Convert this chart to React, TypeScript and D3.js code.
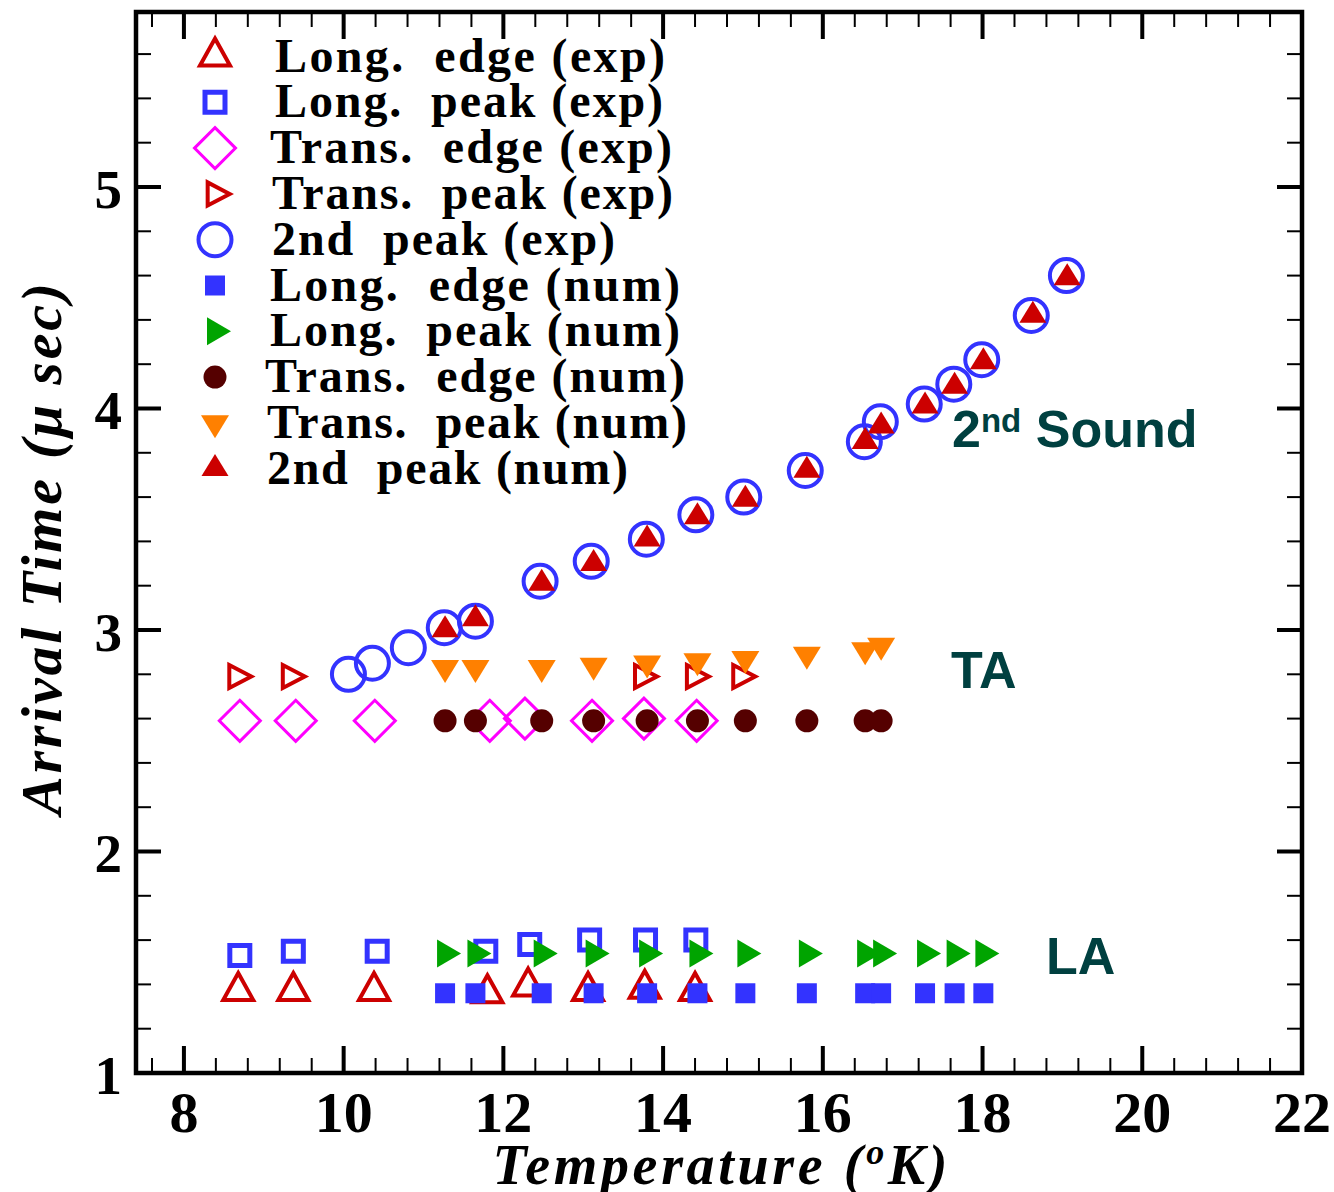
import React from "react";
import * as d3 from "d3";

const WIDTH = 1334;
const HEIGHT = 1192;

// Plot frame (pixels)
const FRAME = { left: 136, right: 1302, top: 12, bottom: 1073 };

// Axis extents and tick values
const xDomain: [number, number] = [7.4, 22];
const yDomain: [number, number] = [1, 5.79];
const xMajorTicks = [8, 10, 12, 14, 16, 18, 20, 22];
const yMajorTicks = [1, 2, 3, 4, 5];

// Longitudinal edge, experiment
const longEdgeExpT = [8.68, 9.37, 10.38, 11.8, 12.31, 13.06, 13.77, 14.4];
const longEdgeExpV = [1.37, 1.37, 1.37, 1.36, 1.39, 1.37, 1.38, 1.37];

// Longitudinal peak, experiment
const longPeakExpT = [8.7, 9.37, 10.42, 11.78, 12.33, 13.08, 13.78, 14.41];
const longPeakExpV = [1.53, 1.55, 1.55, 1.55, 1.58, 1.6, 1.6, 1.6];

// Transverse edge, experiment
const transEdgeExpT = [8.7, 9.4, 10.39, 11.83, 12.27, 13.11, 13.76, 14.42];
const transEdgeExpV = [2.59, 2.59, 2.59, 2.59, 2.6, 2.59, 2.6, 2.59];

// Transverse peak, experiment
const transPeakExpT = [8.66, 9.33, 13.74, 14.39, 14.97];
const transPeakExpV = [2.79, 2.79, 2.79, 2.79, 2.79];

// Second-sound peak, experiment
const secondPeakExpT = [
  10.06, 10.36, 10.81, 11.26, 11.65, 12.46, 13.1, 13.79, 14.41, 15.01, 15.78,
  16.52, 16.72, 17.27, 17.64, 17.99, 18.61, 19.05,
];
const secondPeakExpV = [
  2.8, 2.85, 2.92, 3.01, 3.04, 3.22, 3.31, 3.41, 3.52, 3.6, 3.72, 3.85, 3.94,
  4.02, 4.11, 4.22, 4.42, 4.6,
];

// Longitudinal edge, numerical
const longEdgeNumT = [
  11.27, 11.65, 12.48, 13.13, 13.8, 14.43, 15.03, 15.8, 16.53, 16.73, 17.28,
  17.65, 18.01,
];
const longEdgeNumV = [
  1.36, 1.36, 1.36, 1.36, 1.36, 1.36, 1.36, 1.36, 1.36, 1.36, 1.36, 1.36, 1.36,
];

// Longitudinal peak, numerical
const longPeakNumT = [
  11.27, 11.65, 12.48, 13.13, 13.8, 14.43, 15.03, 15.8, 16.53, 16.73, 17.28,
  17.65, 18.01,
];
const longPeakNumV = [
  1.54, 1.54, 1.54, 1.54, 1.54, 1.54, 1.54, 1.54, 1.54, 1.54, 1.54, 1.54, 1.54,
];

// Transverse edge, numerical
const transEdgeNumT = [
  11.27, 11.65, 12.48, 13.13, 13.8, 14.43, 15.03, 15.8, 16.53, 16.73,
];
const transEdgeNumV = [2.59, 2.59, 2.59, 2.59, 2.59, 2.59, 2.59, 2.59, 2.59, 2.59];

// Transverse peak, numerical
const transPeakNumT = [
  11.27, 11.65, 12.48, 13.13, 13.8, 14.43, 15.03, 15.8, 16.53, 16.73,
];
const transPeakNumV = [2.83, 2.83, 2.83, 2.84, 2.85, 2.86, 2.87, 2.89, 2.91, 2.93];

// Second-sound peak, numerical
const secondPeakNumT = [
  11.27, 11.65, 12.48, 13.13, 13.8, 14.43, 15.03, 15.8, 16.53, 16.73, 17.28,
  17.65, 18.01, 18.63, 19.06,
];
const secondPeakNumV = [
  3.0, 3.05, 3.21, 3.3, 3.41, 3.51, 3.59, 3.72, 3.85, 3.92, 4.01, 4.1, 4.21,
  4.42, 4.59,
];

const legendLabels = [
  "Long.  edge (exp)",
  "Long.  peak (exp)",
  "Trans.  edge (exp)",
  "Trans.  peak (exp)",
  "2nd  peak (exp)",
  "Long.  edge (num)",
  "Long.  peak (num)",
  "Trans.  edge (num)",
  "Trans.  peak (num)",
  "2nd  peak (num)",
];

// Legend label left/right extents
const legendTextStart = [275, 275, 270, 272, 272, 270, 270, 265, 267, 267];
const legendTextEnd = [665, 663, 672, 673, 615, 680, 680, 685, 687, 628];

const RED = "#cc0000";
const BLUE = "#3333ff";
const MAGENTA = "#ff00ff";
const GREEN = "#00a400";
const ORANGE = "#ff8000";
const BROWN = "#550000";
const TEAL = "#004040";

type Shape = "triUp" | "triDown" | "triRight" | "square" | "diamond" | "circle";

interface SymbolStyle {
  shape: Shape;
  a: number; // half-width / half-side / radius
  h?: number; // triangle height
  fill: string;
  stroke: string;
  strokeWidth: number;
}

interface Series {
  t: number[];
  v: number[];
  sym: SymbolStyle;
}

const series: Series[] = [
  { t: longEdgeExpT, v: longEdgeExpV, sym: { shape: "triUp", a: 15, h: 27, fill: "none", stroke: RED, strokeWidth: 4 } },
  { t: longPeakExpT, v: longPeakExpV, sym: { shape: "square", a: 10, fill: "none", stroke: BLUE, strokeWidth: 5 } },
  { t: transEdgeExpT, v: transEdgeExpV, sym: { shape: "diamond", a: 20.5, fill: "none", stroke: MAGENTA, strokeWidth: 3 } },
  { t: transPeakExpT, v: transPeakExpV, sym: { shape: "triRight", a: 11.5, h: 22, fill: "none", stroke: RED, strokeWidth: 4 } },
  { t: secondPeakExpT, v: secondPeakExpV, sym: { shape: "circle", a: 16.5, fill: "none", stroke: BLUE, strokeWidth: 4 } },
  { t: longEdgeNumT, v: longEdgeNumV, sym: { shape: "square", a: 10, fill: BLUE, stroke: "none", strokeWidth: 0 } },
  { t: longPeakNumT, v: longPeakNumV, sym: { shape: "triRight", a: 14, h: 24, fill: GREEN, stroke: "none", strokeWidth: 0 } },
  { t: transEdgeNumT, v: transEdgeNumV, sym: { shape: "circle", a: 11.5, fill: BROWN, stroke: "none", strokeWidth: 0 } },
  { t: transPeakNumT, v: transPeakNumV, sym: { shape: "triDown", a: 14, h: 23, fill: ORANGE, stroke: "none", strokeWidth: 0 } },
  { t: secondPeakNumT, v: secondPeakNumV, sym: { shape: "triUp", a: 13.5, h: 22, fill: RED, stroke: "none", strokeWidth: 0 } },
];

// Symbol outline centred on its centroid
function symbolPath(s: SymbolStyle): string {
  const p = d3.path();
  const a = s.a;
  const h = s.h ?? 0;
  switch (s.shape) {
    case "triUp":
      p.moveTo(0, (-2 * h) / 3);
      p.lineTo(a, h / 3);
      p.lineTo(-a, h / 3);
      p.closePath();
      break;
    case "triDown":
      p.moveTo(0, (2 * h) / 3);
      p.lineTo(a, -h / 3);
      p.lineTo(-a, -h / 3);
      p.closePath();
      break;
    case "triRight":
      p.moveTo((2 * h) / 3, 0);
      p.lineTo(-h / 3, -a);
      p.lineTo(-h / 3, a);
      p.closePath();
      break;
    case "square":
      p.rect(-a, -a, 2 * a, 2 * a);
      break;
    case "diamond":
      p.moveTo(0, -a);
      p.lineTo(a, 0);
      p.lineTo(0, a);
      p.lineTo(-a, 0);
      p.closePath();
      break;
    case "circle":
      p.arc(0, 0, a, 0, 2 * Math.PI);
      p.closePath();
      break;
  }
  return p.toString();
}

function Marker({ x, y, sym }: { x: number; y: number; sym: SymbolStyle }) {
  return (
    <path
      d={symbolPath(sym)}
      transform={`translate(${x},${y})`}
      fill={sym.fill}
      stroke={sym.stroke}
      strokeWidth={sym.strokeWidth}
    />
  );
}

const SERIF = "'Liberation Serif', 'Times New Roman', serif";
const SANS = "'Liberation Sans', Arial, sans-serif";

export default function App() {
  const x = d3.scaleLinear().domain(xDomain).range([FRAME.left, FRAME.right]);
  const y = d3.scaleLinear().domain(yDomain).range([FRAME.bottom, FRAME.top]);

  const isMultiple = (v: number, step: number) =>
    Math.abs(v / step - Math.round(v / step)) < 1e-6;

  const xMinorTicks = d3
    .range(7.6, 22, 0.4)
    .map((v) => +v.toFixed(2))
    .filter((v) => !isMultiple(v, 2));
  const yMinorTicks = d3
    .range(1.2, 5.79, 0.2)
    .map((v) => +v.toFixed(2))
    .filter((v) => !isMultiple(v, 1));

  const MAJOR = 27;
  const MINOR = 15;

  const legendX = 215;
  const legendY0 = 56.5;
  const legendStep = 45.8;

  return (
    <svg
      width={WIDTH}
      height={HEIGHT}
      style={{ position: "absolute", left: 0, top: 0, display: "block", background: "#fff" }}
    >
      <rect x={0} y={0} width={WIDTH} height={HEIGHT} fill="#ffffff" />

      {/* tick marks, all four sides, pointing inward */}
      <g stroke="#000">
        {xMajorTicks.map((t) => (
          <g key={`xM${t}`} strokeWidth={4}>
            <line x1={x(t)} x2={x(t)} y1={FRAME.bottom} y2={FRAME.bottom - MAJOR} />
            <line x1={x(t)} x2={x(t)} y1={FRAME.top} y2={FRAME.top + MAJOR} />
          </g>
        ))}
        {xMinorTicks.map((t) => (
          <g key={`xm${t}`} strokeWidth={2}>
            <line x1={x(t)} x2={x(t)} y1={FRAME.bottom} y2={FRAME.bottom - MINOR} />
            <line x1={x(t)} x2={x(t)} y1={FRAME.top} y2={FRAME.top + MINOR} />
          </g>
        ))}
        {yMajorTicks.map((t) => (
          <g key={`yM${t}`} strokeWidth={4}>
            <line x1={FRAME.left} x2={FRAME.left + 25} y1={y(t)} y2={y(t)} />
            <line x1={FRAME.right} x2={FRAME.right - 25} y1={y(t)} y2={y(t)} />
          </g>
        ))}
        {yMinorTicks.map((t) => (
          <g key={`ym${t}`} strokeWidth={2}>
            <line x1={FRAME.left} x2={FRAME.left + MINOR} y1={y(t)} y2={y(t)} />
            <line x1={FRAME.right} x2={FRAME.right - MINOR} y1={y(t)} y2={y(t)} />
          </g>
        ))}
      </g>

      {/* frame */}
      <rect
        x={FRAME.left}
        y={FRAME.top}
        width={FRAME.right - FRAME.left}
        height={FRAME.bottom - FRAME.top}
        fill="none"
        stroke="#000"
        strokeWidth={4.5}
      />

      {/* tick labels */}
      <g fontFamily={SERIF} fontWeight="bold" fill="#000">
        {xMajorTicks.map((t) => (
          <text key={`xl${t}`} x={x(t)} y={1132} fontSize={58} textAnchor="middle">
            {t}
          </text>
        ))}
        {yMajorTicks.map((t) => (
          <text key={`yl${t}`} x={122} y={y(t) + 21} fontSize={55} textAnchor="end">
            {t}
          </text>
        ))}
      </g>

      {/* axis titles */}
      <text
        x={720}
        y={1184}
        fontFamily={SERIF}
        fontWeight="bold"
        fontStyle="italic"
        fontSize={56}
        textAnchor="middle"
        textLength={455}
        lengthAdjust="spacing"
      >
        Temperature (<tspan fontSize={36} dy={-20}>o</tspan>
        <tspan dy={20}>K)</tspan>
      </text>
      <text
        transform="translate(61,549) rotate(-90)"
        fontFamily={SERIF}
        fontWeight="bold"
        fontStyle="italic"
        fontSize={58}
        textAnchor="middle"
        textLength={532}
        lengthAdjust="spacing"
      >
        Arrival Time (μ sec)
      </text>

      {/* data markers */}
      {series.map((s, i) => (
        <g key={`s${i}`}>
          {s.t.map((t, j) => (
            <Marker key={j} x={x(t)} y={y(s.v[j])} sym={s.sym} />
          ))}
        </g>
      ))}

      {/* legend */}
      {series.map((s, i) => {
        const cy = legendY0 + i * legendStep;
        return (
          <g key={`lg${i}`}>
            <Marker x={legendX} y={cy} sym={s.sym} />
            <text
              x={legendTextStart[i]}
              y={cy + 15}
              fontFamily={SERIF}
              fontWeight="bold"
              fontSize={48}
              textLength={legendTextEnd[i] - legendTextStart[i]}
              lengthAdjust="spacing"
              style={{ whiteSpace: "pre" }}
            >
              {legendLabels[i]}
            </text>
          </g>
        );
      })}

      {/* branch annotations */}
      <g fontFamily={SANS} fontWeight="bold" fill={TEAL}>
        <text x={952} y={447} fontSize={52}>
          2<tspan fontSize={33} dy={-15}>nd</tspan>
          <tspan dy={15}> Sound</tspan>
        </text>
        <text x={951} y={688} fontSize={52}>
          TA
        </text>
        <text x={1046} y={974} fontSize={52}>
          LA
        </text>
      </g>
    </svg>
  );
}
